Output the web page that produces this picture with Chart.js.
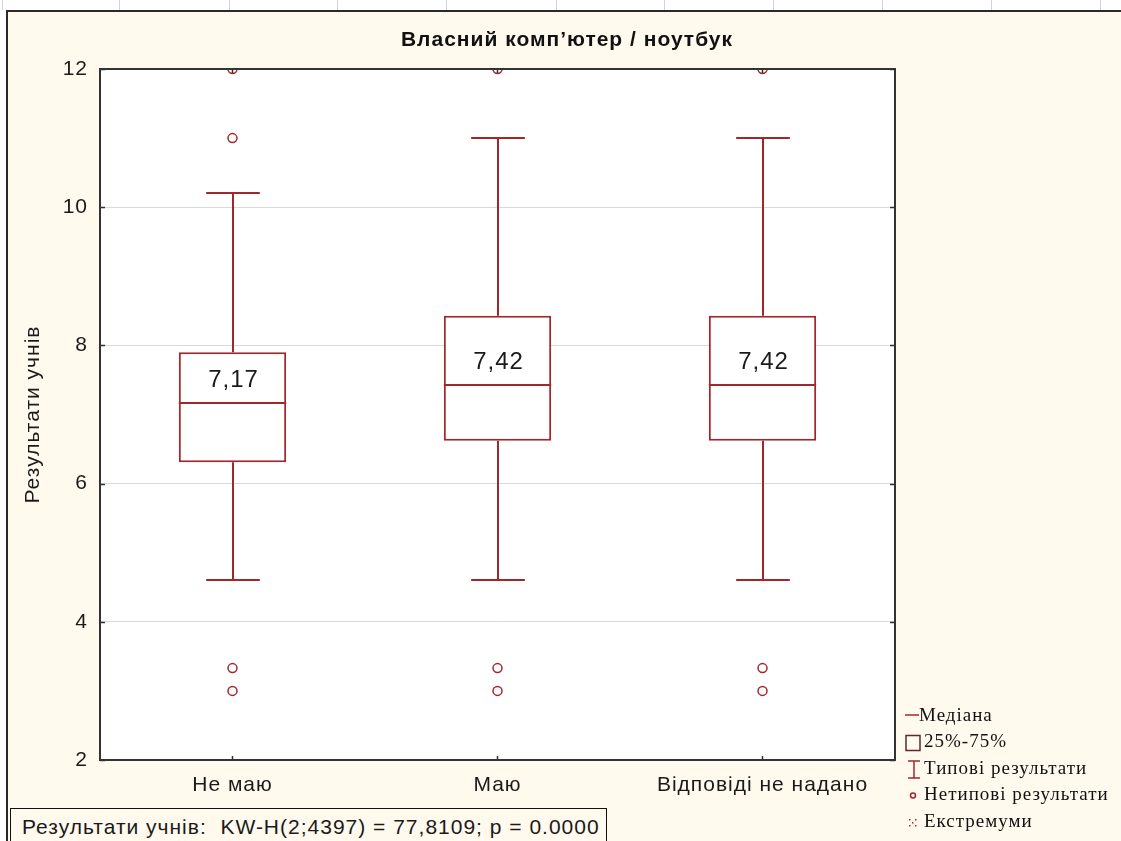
<!DOCTYPE html>
<html>
<head>
<meta charset="utf-8">
<script src="https://cdn.jsdelivr.net/npm/chart.js@4.4.1/dist/chart.umd.min.js"></script>
<style>
  body { margin: 0; background: #fff; }
  #wrap { position: relative; width: 1121px; height: 841px; overflow: hidden; }
  #frame { position: absolute; left: 6px; top: 10px; width: 1130px; height: 850px;
           background: #fff9ee; border-left: 2px solid #2a2a2a; border-top: 2px solid #2a2a2a; }
  .cell { position: absolute; top: 0; width: 1px; height: 10px; background: #d4d4d4; }
  #chart { position: absolute; left: 0; top: 0; }
  #stats { position: absolute; left: 10px; top: 808px; width: 584px; height: 40px;
           border: 1.5px solid #111; border-bottom: none; background: #fff9ee;
           font: 21px "Liberation Sans", Arial, sans-serif; color: #1a1a1a; letter-spacing: 1px;
           padding-left: 11px; line-height: 36px; white-space: nowrap; }
</style>
</head>
<body>
<div id="wrap">
  <div id="frame"></div>
  <canvas id="chart" width="1121" height="841"></canvas>
  <div id="stats">Результати учнів:&nbsp; KW-H(2;4397) = 77,8109; p = 0.0000</div>
</div>
<script>
// --- Data ---
const categories = ["Не маю", "Маю", "Відповіді не надано"];
const whiskerLow = [4.6, 4.6, 4.6];
const q1 = [6.31, 6.62, 6.62];
const medians = [7.17, 7.42, 7.42];
const q3 = [7.9, 8.43, 8.43];
const whiskerHigh = [10.2, 11, 11];
const outliers = [[12, 11, 3.33, 3], [12, 3.33, 3], [12, 3.33, 3]];
const medianLabels = ["7,17", "7,42", "7,42"];
const yTicks = [2, 4, 6, 8, 10, 12];
const legendItems = ["Медіана", "25%-75%", "Типові результати", "Нетипові результати", "Екстремуми"];

const RED = "#a3262b";
const FONT = '"Liberation Sans", Arial, sans-serif';

// excel cell lines above the frame
[2, 119, 229, 337, 446, 556, 664, 773, 882, 991, 1100].forEach(x => {
  const d = document.createElement("div");
  d.className = "cell";
  d.style.left = x + "px";
  document.getElementById("wrap").appendChild(d);
});

const outlierPoints = [];
outliers.forEach((list, i) => list.forEach(v => outlierPoints.push({ x: categories[i], y: v })));

// --- Box plot extras (whiskers, medians, frame, title, legend) ---
const boxExtras = {
  id: "boxExtras",
  beforeUpdate(chart) { chart.ctx.letterSpacing = "1px"; },
  beforeDraw(chart) {
    const { ctx, chartArea: a } = chart;
    ctx.letterSpacing = "1px";
    ctx.save();
    ctx.fillStyle = "#fff";
    ctx.fillRect(a.left, a.top, a.right - a.left, a.bottom - a.top);
    ctx.restore();
  },
  beforeDatasetsDraw(chart) {
    const ctx = chart.ctx;
    const y = chart.scales.y;
    const bars = chart.getDatasetMeta(0).data;
    ctx.save();
    ctx.strokeStyle = RED;
    ctx.lineWidth = 2;
    bars.forEach((bar, i) => {
      const cap = bar.width / 4;
      const x = Math.round(bar.x);
      [[q3[i], whiskerHigh[i]], [q1[i], whiskerLow[i]]].forEach(([from, to]) => {
        const y0 = y.getPixelForValue(from), y1 = Math.round(y.getPixelForValue(to));
        ctx.beginPath();
        ctx.moveTo(x, y0);
        ctx.lineTo(x, y1);
        ctx.moveTo(x - cap, y1);
        ctx.lineTo(x + cap, y1);
        ctx.stroke();
      });
    });
    ctx.restore();
  },
  afterDatasetsDraw(chart) {
    const { ctx, chartArea: a } = chart;
    const y = chart.scales.y;
    const bars = chart.getDatasetMeta(0).data;
    ctx.save();
    // medians + labels
    bars.forEach((bar, i) => {
      const ym = Math.round(y.getPixelForValue(medians[i]));
      ctx.strokeStyle = RED;
      ctx.lineWidth = 2;
      ctx.beginPath();
      ctx.moveTo(bar.x - bar.width / 2, ym);
      ctx.lineTo(bar.x + bar.width / 2, ym);
      ctx.stroke();
      ctx.fillStyle = "#1a1a1a";
      ctx.font = "24px " + FONT;
      ctx.textAlign = "center";
      ctx.textBaseline = "middle";
      ctx.fillText(medianLabels[i], bar.x + 1, ym - 23);
    });
    // frame + small tick marks
    ctx.strokeStyle = "#333";
    ctx.lineWidth = 2;
    ctx.strokeRect(a.left, a.top, a.right - a.left, a.bottom - a.top);
    ctx.lineWidth = 1.5;
    ctx.beginPath();
    yTicks.forEach(t => {
      const py = Math.round(y.getPixelForValue(t)) + 0.5;
      ctx.moveTo(a.left, py); ctx.lineTo(a.left + 5, py);
      ctx.moveTo(a.right, py); ctx.lineTo(a.right - 5, py);
    });
    bars.forEach(bar => {
      ctx.moveTo(bar.x, a.bottom); ctx.lineTo(bar.x, a.bottom - 4);
      ctx.moveTo(bar.x, a.top); ctx.lineTo(bar.x, a.top + 4);
    });
    ctx.stroke();
    ctx.restore();
  },
  afterDraw(chart) {
    const ctx = chart.ctx;
    ctx.save();
    // title
    ctx.fillStyle = "#111";
    ctx.font = "bold 21px " + FONT;
    ctx.textAlign = "center";
    ctx.textBaseline = "middle";
    ctx.fillText("Власний комп’ютер / ноутбук", 567, 40);
    // legend
    const lx = 905, ly = 716, step = 26.5;
    ctx.font = '19px "Liberation Serif", "Times New Roman", serif';
    ctx.textAlign = "left";
    ctx.fillStyle = "#111";
    ctx.strokeStyle = RED;
    ctx.lineWidth = 1.5;
    legendItems.forEach((txt, k) => {
      const cy = ly + k * step;
      ctx.fillText(txt, k === 0 ? 919 : 924, cy);
    });
    // icons
    ctx.beginPath();
    ctx.moveTo(lx, ly - 1); ctx.lineTo(lx + 14, ly - 1);
    ctx.stroke();
    ctx.strokeStyle = "#5a2a2a";
    ctx.strokeRect(lx + 1, ly + step - 7, 14, 15);
    ctx.strokeStyle = RED;
    const iy = ly + 2 * step;
    ctx.beginPath();
    ctx.moveTo(lx + 3, iy - 8); ctx.lineTo(lx + 15, iy - 8);
    ctx.moveTo(lx + 9, iy - 8); ctx.lineTo(lx + 9, iy + 9);
    ctx.moveTo(lx + 3, iy + 9); ctx.lineTo(lx + 15, iy + 9);
    ctx.stroke();
    ctx.beginPath();
    ctx.arc(lx + 8, ly + 3 * step, 2.5, 0, Math.PI * 2);
    ctx.stroke();
    ctx.fillStyle = RED;
    const ey = ly + 4 * step;
    [[-3, -3], [3, -3], [0, 0], [-3, 3], [3, 3]].forEach(([dx, dy]) => {
      ctx.fillRect(lx + 7 + dx, ey + dy, 1.5, 1.5);
    });
    ctx.restore();
  }
};

new Chart(document.getElementById("chart"), {
  data: {
    labels: categories,
    datasets: [
      {
        type: "bar",
        data: categories.map((c, i) => [q1[i], q3[i]]),
        backgroundColor: "#fff",
        borderColor: RED,
        borderWidth: 2,
        borderSkipped: false,
        barPercentage: 0.405,
        categoryPercentage: 1,
        order: 2
      },
      {
        type: "line",
        data: outlierPoints,
        showLine: false,
        pointStyle: "circle",
        pointRadius: 4.5,
        pointBorderWidth: 1.5,
        pointBorderColor: RED,
        pointBackgroundColor: "rgba(255,255,255,0)",
        clip: 0,
        order: 1
      }
    ]
  },
  options: {
    responsive: false,
    animation: false,
    layout: { padding: { left: 0, right: 226, top: 69, bottom: 0 } },
    plugins: {
      legend: { display: false },
      tooltip: { enabled: false },
      title: { display: false }
    },
    scales: {
      x: {
        type: "category",
        offset: true,
        grid: { display: false, drawTicks: false },
        border: { display: false },
        ticks: { color: "#1a1a1a", font: { family: FONT, size: 21 }, padding: 13 },
        afterFit(s) { s.height = 81; }
      },
      y: {
        min: 2,
        max: 12,
        afterBuildTicks(s) { s.ticks = yTicks.map(v => ({ value: v })); },
        grid: { color: "#d9d9d9", lineWidth: 1, drawTicks: false },
        border: { display: false },
        ticks: { color: "#1a1a1a", font: { family: FONT, size: 21 }, padding: 12 },
        title: {
          display: true,
          text: "Результати учнів",
          color: "#1a1a1a",
          font: { family: FONT, size: 21 },
          padding: { top: 21, bottom: 0 }
        },
        afterFit(s) { s.width = 100; }
      }
    }
  },
  plugins: [boxExtras]
});
</script>
</body>
</html>
